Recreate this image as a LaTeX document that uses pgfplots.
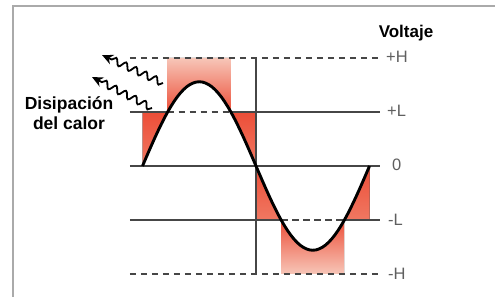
\documentclass[border=0pt]{standalone}
\usepackage{fontspec}
\setmainfont{Liberation Sans}
\usepackage{pgfplots}
\pgfplotsset{compat=1.18}
\usepgfplotslibrary{fillbetween}
\usetikzlibrary{decorations.pathmorphing,arrows.meta}
\definecolor{hot}{RGB}{236,78,56}
\definecolor{hotmid}{RGB}{240,120,98}
\definecolor{pale}{RGB}{247,198,184}
\definecolor{rail}{RGB}{70,70,70}
\definecolor{lab}{RGB}{95,95,95}
\definecolor{frame}{RGB}{170,170,170}
\begin{document}
\begin{tikzpicture}[x=1pt,y=1pt]
\begin{axis}[
  at={(129.9pt,23pt)}, anchor=south west,
  x=0.6306pt, y=54pt,
  xmin=-20, xmax=376, ymin=-2, ymax=2,
  hide axis, clip=false]
% invisible reference paths
\addplot[draw=none, name path=Hp] coordinates {(-20,2) (376,2)};
\addplot[draw=none, name path=Lp] coordinates {(-20,1) (376,1)};
\addplot[draw=none, name path=Ln] coordinates {(-20,-1) (376,-1)};
\addplot[draw=none, name path=Hn] coordinates {(-20,-2) (376,-2)};
% output voltage (sine, amplitude 1.56 L)
\addplot[draw=none, name path=sine] coordinates {
(0,0) (5,0.136) (10,0.271) (15,0.404) (20,0.534) (25,0.659) (30,0.780) (35,0.895)
(40,1.003) (45,1.103) (50,1.195) (55,1.278) (60,1.351) (65,1.414) (70,1.466) (75,1.507)
(80,1.536) (85,1.554) (90,1.560) (95,1.554) (100,1.536) (105,1.507) (110,1.466) (115,1.414)
(120,1.351) (125,1.278) (130,1.195) (135,1.103) (140,1.003) (145,0.895) (150,0.780) (155,0.659)
(160,0.534) (165,0.404) (170,0.271) (175,0.136) (180,0)
(185,-0.136) (190,-0.271) (195,-0.404) (200,-0.534) (205,-0.659) (210,-0.780) (215,-0.895)
(220,-1.003) (225,-1.103) (230,-1.195) (235,-1.278) (240,-1.351) (245,-1.414) (250,-1.466) (255,-1.507)
(260,-1.536) (265,-1.554) (270,-1.560) (275,-1.554) (280,-1.536) (285,-1.507) (290,-1.466) (295,-1.414)
(300,-1.351) (305,-1.278) (310,-1.195) (315,-1.103) (320,-1.003) (325,-0.895) (330,-0.780) (335,-0.659)
(340,-0.534) (345,-0.404) (350,-0.271) (355,-0.136) (360,0)};
% heat dissipation areas
\addplot[top color=hot, bottom color=hotmid] fill between[of=sine and Lp, soft clip={domain=0:39.87}];
\addplot[top color=pale, bottom color=hot] fill between[of=sine and Hp, soft clip={domain=39.87:140.13}];
\addplot[top color=hot, bottom color=hotmid] fill between[of=sine and Lp, soft clip={domain=140.13:180}];
\addplot[top color=hot, bottom color=hotmid] fill between[of=sine and Ln, soft clip={domain=180:219.87}];
\addplot[top color=hot, bottom color=pale] fill between[of=sine and Hn, soft clip={domain=219.87:319.87}];
\addplot[top color=hot, bottom color=hotmid] fill between[of=sine and Ln, soft clip={domain=319.87:360}];
% rails
\addplot[rail, line width=1.9pt, dash pattern=on 6.5pt off 4.5pt] coordinates {(-20,2) (376,2)};
\addplot[rail, line width=1.9pt] coordinates {(-20,1) (39.87,1)};
\addplot[rail, line width=1.9pt, dash pattern=on 6.5pt off 4.5pt] coordinates {(39.87,1) (140.13,1)};
\addplot[rail, line width=1.9pt] coordinates {(140.13,1) (376,1)};
\addplot[rail, line width=1.9pt] coordinates {(-20,0) (376,0)};
\addplot[rail, line width=1.9pt] coordinates {(-20,-1) (219.87,-1)};
\addplot[rail, line width=1.9pt, dash pattern=on 6.5pt off 4.5pt] coordinates {(219.87,-1) (319.87,-1)};
\addplot[rail, line width=1.9pt] coordinates {(319.87,-1) (376,-1)};
\addplot[rail, line width=1.9pt, dash pattern=on 6.5pt off 4.5pt] coordinates {(-20,-2) (376,-2)};
\addplot[rail, line width=1.9pt] coordinates {(180,-2) (180,2)};
% sine drawn on top
\addplot[black, line width=2.9pt, line join=round] coordinates {
(0,0) (5,0.136) (10,0.271) (15,0.404) (20,0.534) (25,0.659) (30,0.780) (35,0.895)
(40,1.003) (45,1.103) (50,1.195) (55,1.278) (60,1.351) (65,1.414) (70,1.466) (75,1.507)
(80,1.536) (85,1.554) (90,1.560) (95,1.554) (100,1.536) (105,1.507) (110,1.466) (115,1.414)
(120,1.351) (125,1.278) (130,1.195) (135,1.103) (140,1.003) (145,0.895) (150,0.780) (155,0.659)
(160,0.534) (165,0.404) (170,0.271) (175,0.136) (180,0)
(185,-0.136) (190,-0.271) (195,-0.404) (200,-0.534) (205,-0.659) (210,-0.780) (215,-0.895)
(220,-1.003) (225,-1.103) (230,-1.195) (235,-1.278) (240,-1.351) (245,-1.414) (250,-1.466) (255,-1.507)
(260,-1.536) (265,-1.554) (270,-1.560) (275,-1.554) (280,-1.536) (285,-1.507) (290,-1.466) (295,-1.414)
(300,-1.351) (305,-1.278) (310,-1.195) (315,-1.103) (320,-1.003) (325,-0.895) (330,-0.780) (335,-0.659)
(340,-0.534) (345,-0.404) (350,-0.271) (355,-0.136) (360,0)};
\end{axis}
% level labels
\begin{scope}[every node/.style={anchor=west, text=lab, font=\fontsize{16.5}{18}\selectfont, inner sep=0pt}]
\node at (386pt,240pt) {+H};
\node at (387pt,186pt) {+L};
\node at (392pt,132pt) {0};
\node at (388pt,77pt) {-L};
\node at (388pt,23pt) {-H};
\end{scope}
\node[font=\fontsize{17}{18}\selectfont\bfseries, inner sep=0pt] at (406pt,264pt) {Voltaje};
\node[font=\fontsize{17.5}{20}\selectfont\bfseries, align=center, inner sep=0pt] at (69pt,184pt) {Disipación\\del calor};
% heat arrows
\draw[line width=1.8pt, -{Stealth[length=11pt,width=10pt]},
  decorate, decoration={snake, amplitude=3.4pt, segment length=11pt, post length=8pt}]
  (163pt,214pt) -- (102pt,242pt);
\draw[line width=1.8pt, -{Stealth[length=11pt,width=10pt]},
  decorate, decoration={snake, amplitude=3.4pt, segment length=11pt, post length=8pt}]
  (152pt,189pt) -- (92pt,220pt);
% frame
\draw[frame, line width=1.3pt] (13pt,0pt) -- (13pt,291pt) -- (495pt,291pt);
\pgfresetboundingbox
\path[use as bounding box] (0pt,0pt) rectangle (495pt,297pt);
\end{tikzpicture}
\end{document}
